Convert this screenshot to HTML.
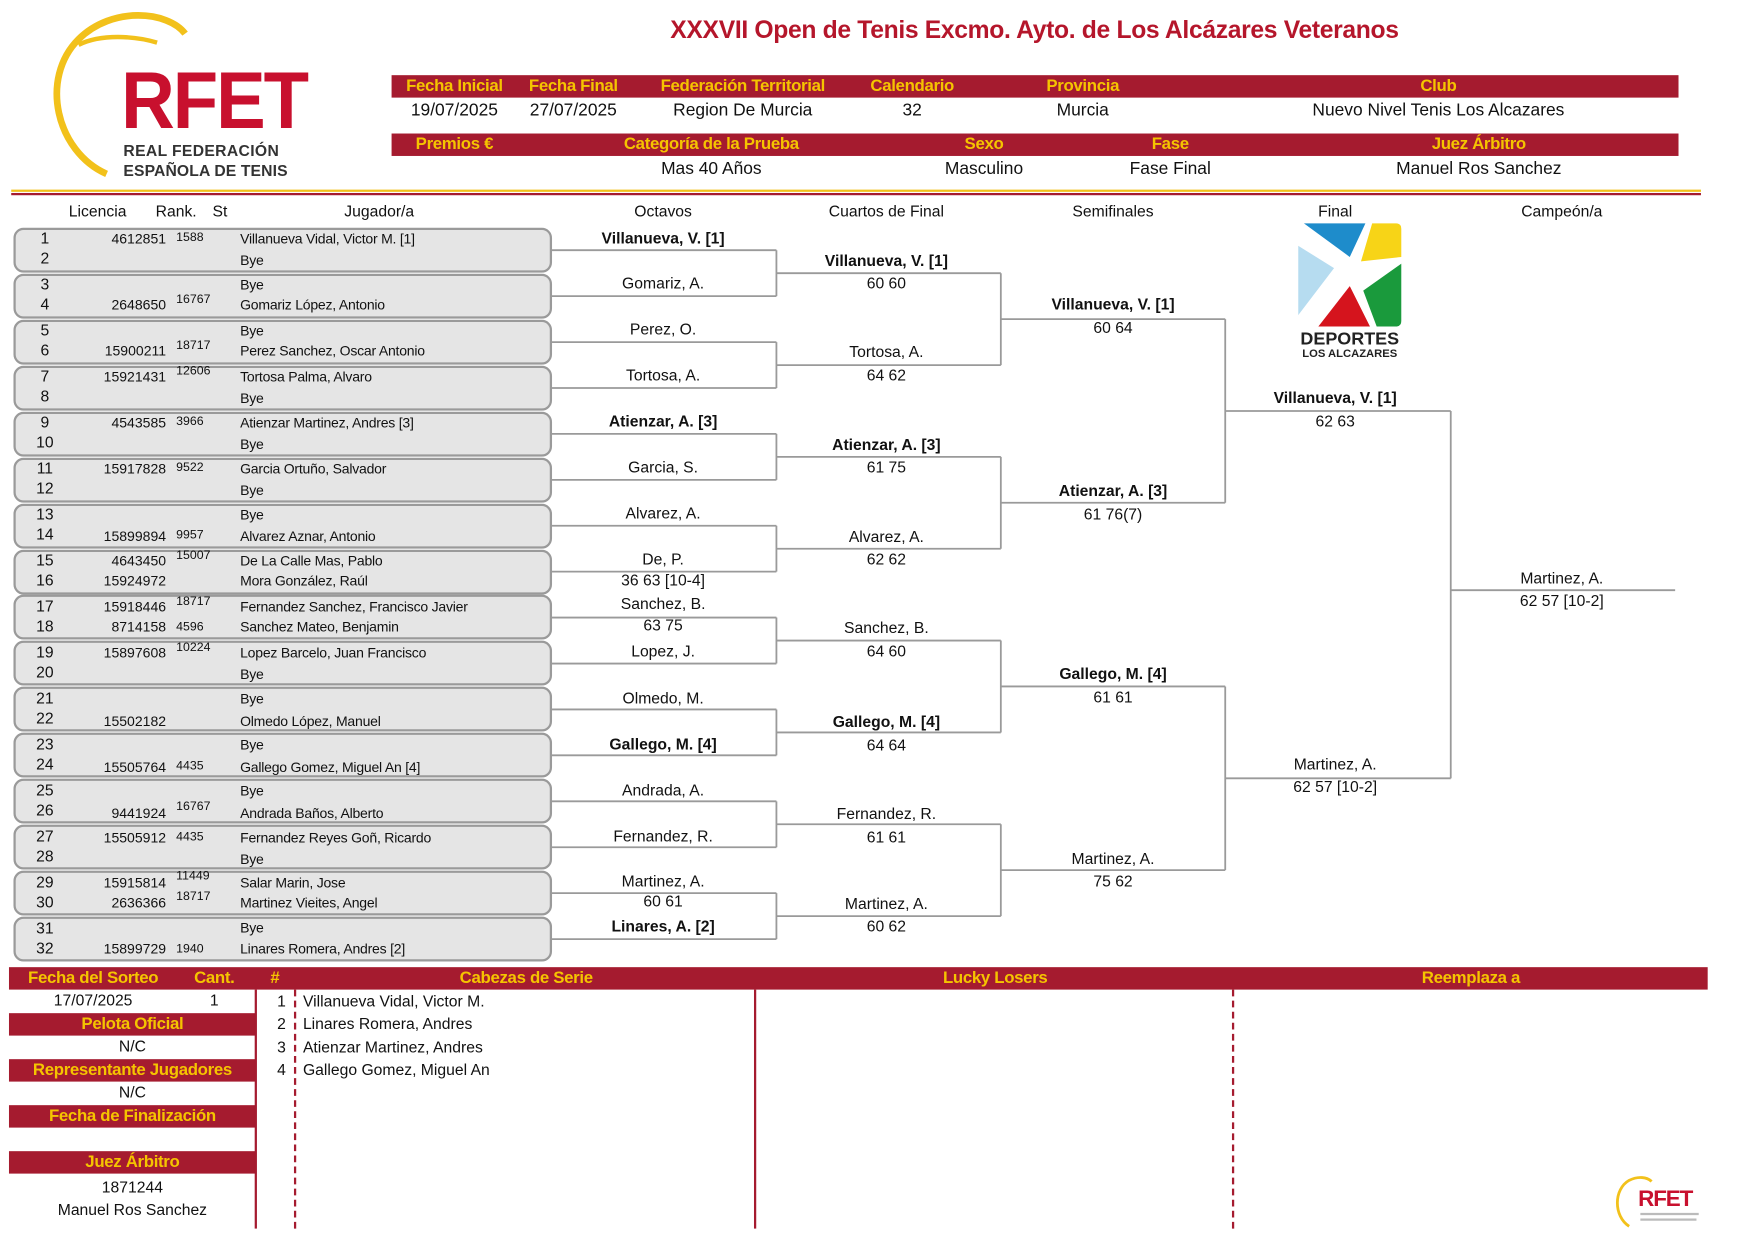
<!DOCTYPE html>
<html><head><meta charset="utf-8"><style>
html,body{margin:0;padding:0;background:#fff;overflow:hidden;}
#w{position:absolute;left:0;top:0;width:1560px;height:1102px;transform:scale(1.122);transform-origin:0 0;font-family:"Liberation Sans",sans-serif;color:#111;}
.a{position:absolute;white-space:nowrap;}
.c{position:absolute;white-space:nowrap;text-align:center;width:240px;}
.bar{position:absolute;background:#a51b2f;}
.y{color:#f5c400;font-weight:bold;font-size:15px;letter-spacing:-0.3px;}
.v{font-size:15.5px;}
.box{position:absolute;left:12px;width:476px;height:36px;border:2px solid #9a9a9a;border-radius:9px;background:#e5e5e5;}
.n{position:absolute;width:30px;text-align:center;left:25px;font-size:14px;}
.l{position:absolute;right:352px;font-size:12.5px;text-align:right;}
.r{position:absolute;left:157px;font-size:11px;}
.nm{position:absolute;left:214px;font-size:12.5px;letter-spacing:-0.2px;}
.b{font-weight:bold;}
.t{font-size:14px;}
</style></head><body><div id="w">

<svg class="a" style="left:40px;top:10px" width="250" height="155" viewBox="0 0 250 155">
<path d="M55 145 C10 125 -5 60 30 25 C60 -5 110 0 125 20" fill="none" stroke="#f2c11b" stroke-width="6"/>
<path d="M30 30 C50 20 80 22 100 28" fill="none" stroke="#f2c11b" stroke-width="4"/>
</svg>
<div class="a" style="left:108px;top:52px;font-size:72px;font-weight:bold;color:#c8102e;letter-spacing:-2px;line-height:76px;transform:scaleX(0.92);transform-origin:0 0">RFET</div>
<div class="a" style="left:110px;top:126px;font-size:14px;font-weight:bold;color:#333;letter-spacing:0.3px">REAL FEDERACIÓN</div>
<div class="a" style="left:110px;top:144px;font-size:14px;font-weight:bold;color:#333;letter-spacing:0.1px">ESPAÑOLA DE TENIS</div>

<div class="c" style="left:572px;width:700px;top:14px;font-size:22px;font-weight:bold;color:#b5162b;letter-spacing:-0.3px">XXXVII Open de Tenis Excmo. Ayto. de Los Alcázares Veteranos</div>

<div class="bar" style="left:349px;top:67px;width:1147px;height:20px"></div>
<div class="bar" style="left:349px;top:119px;width:1147px;height:20px"></div>
<div class="c y" style="left:285px;top:68px">Fecha Inicial</div>
<div class="c y" style="left:391px;top:68px">Fecha Final</div>
<div class="c y" style="left:542px;top:68px">Federación Territorial</div>
<div class="c y" style="left:693px;top:68px">Calendario</div>
<div class="c y" style="left:845px;top:68px">Provincia</div>
<div class="c y" style="left:1162px;top:68px">Club</div>
<div class="c v" style="left:285px;top:90px">19/07/2025</div>
<div class="c v" style="left:391px;top:90px">27/07/2025</div>
<div class="c v" style="left:542px;top:90px">Region De Murcia</div>
<div class="c v" style="left:693px;top:90px">32</div>
<div class="c v" style="left:845px;top:90px">Murcia</div>
<div class="c v" style="left:1162px;top:90px">Nuevo Nivel Tenis Los Alcazares</div>
<div class="c y" style="left:285px;top:120px">Premios €</div>
<div class="c y" style="left:514px;top:120px">Categoría de la Prueba</div>
<div class="c y" style="left:757px;top:120px">Sexo</div>
<div class="c y" style="left:923px;top:120px">Fase</div>
<div class="c y" style="left:1198px;top:120px">Juez Árbitro</div>
<div class="c v" style="left:514px;top:142px">Mas 40 Años</div>
<div class="c v" style="left:757px;top:142px">Masculino</div>
<div class="c v" style="left:923px;top:142px">Fase Final</div>
<div class="c v" style="left:1198px;top:142px">Manuel Ros Sanchez</div>

<div class="a" style="left:10px;top:169px;width:1506px;height:2px;background:#f2c11b"></div>
<div class="a" style="left:10px;top:172px;width:1506px;height:2px;background:#a51b2f"></div>

<div class="c t" style="left:-33px;top:180px">Licencia</div>
<div class="c t" style="left:37px;top:180px">Rank.</div>
<div class="c t" style="left:76px;top:180px">St</div>
<div class="c t" style="left:218px;top:180px">Jugador/a</div>
<div class="c t" style="left:471px;top:180px">Octavos</div>
<div class="c t" style="left:670px;top:180px">Cuartos de Final</div>
<div class="c t" style="left:872px;top:180px">Semifinales</div>
<div class="c t" style="left:1070px;top:180px">Final</div>
<div class="c t" style="left:1272px;top:180px">Campeón/a</div>

<svg class="a" style="left:1157px;top:199px" width="92" height="92" viewBox="0 0 92 92">
<path d="M5 0 H60 L46 30 Z" fill="#1e8ccb"/>
<path d="M66 0 H87 Q92 0 92 5 V30 L56 34 Z" fill="#f7d417"/>
<path d="M92 36 V87 Q92 92 87 92 H70 L58 60 Z" fill="#1a9a3c"/>
<path d="M18 92 L46 56 L64 92 Z" fill="#d5141d"/>
<path d="M0 20 L32 40 L0 82 Z" fill="#b6dcf0"/>
</svg>
<div class="c" style="left:1083px;top:294px;font-size:16px;font-weight:bold;color:#222">DEPORTES</div>
<div class="c" style="left:1083px;top:310px;font-size:10px;font-weight:bold;color:#222">LOS ALCAZARES</div>

<svg class="a" style="left:0;top:0" width="1560" height="1102">
<g stroke="#9a9a9a" stroke-width="1.6" fill="none">
<path d="M490 223H692M490 263.9H692M692 223V263.9M692 243.5H892"/>
<path d="M490 304.9H692M490 345.8H692M692 304.9V345.8M692 325.4H892"/>
<path d="M490 386.7H692M490 427.7H692M692 386.7V427.7M692 407.2H892"/>
<path d="M490 468.6H692M490 509.5H692M692 468.6V509.5M692 489.1H892"/>
<path d="M490 550.4H692M490 591.4H692M692 550.4V591.4M692 570.9H892"/>
<path d="M490 632.3H692M490 673.2H692M692 632.3V673.2M692 652.8H892"/>
<path d="M490 714.2H692M490 755.1H692M692 714.2V755.1M692 734.6H892"/>
<path d="M490 796H692M490 837H692M692 796V837M692 816.5H892"/>
<path d="M892 243.5V325.4M892 284.4H1092M892 407.2V489.1M892 448.1H1092M892 570.9V652.8M892 611.8H1092M892 734.6V816.5M892 775.5H1092"/>
<path d="M1092 284.4V448.1M1092 366.3H1293M1092 611.8V775.5M1092 693.7H1293"/>
<path d="M1293 366.3V693.7M1293 526H1493"/>
</g></svg>

<div class="box" style="top:203px"></div>
<div class="box" style="top:243.9px"></div>
<div class="box" style="top:284.9px"></div>
<div class="box" style="top:325.8px"></div>
<div class="box" style="top:366.7px"></div>
<div class="box" style="top:407.7px"></div>
<div class="box" style="top:448.6px"></div>
<div class="box" style="top:489.5px"></div>
<div class="box" style="top:530.4px"></div>
<div class="box" style="top:571.4px"></div>
<div class="box" style="top:612.3px"></div>
<div class="box" style="top:653.2px"></div>
<div class="box" style="top:694.2px"></div>
<div class="box" style="top:735.1px"></div>
<div class="box" style="top:776px"></div>
<div class="box" style="top:817px"></div>

<div class="a" style="left:0;top:0;width:500px;height:870px">
<div class="n" style="top:204px">1</div><div class="l" style="top:206px">4612851</div><div class="r" style="top:206px">1588</div><div class="nm" style="top:206px">Villanueva Vidal, Victor M. [1]</div>
<div class="n" style="top:222px">2</div><div class="nm" style="top:225px">Bye</div>
<div class="n" style="top:245px">3</div><div class="nm" style="top:247px">Bye</div>
<div class="n" style="top:263px">4</div><div class="l" style="top:265px">2648650</div><div class="r" style="top:261px">16767</div><div class="nm" style="top:265px">Gomariz López, Antonio</div>
<div class="n" style="top:286px">5</div><div class="nm" style="top:288px">Bye</div>
<div class="n" style="top:304px">6</div><div class="l" style="top:306px">15900211</div><div class="r" style="top:302px">18717</div><div class="nm" style="top:306px">Perez Sanchez, Oscar Antonio</div>
<div class="n" style="top:327px">7</div><div class="l" style="top:329px">15921431</div><div class="r" style="top:325px">12606</div><div class="nm" style="top:329px">Tortosa Palma, Alvaro</div>
<div class="n" style="top:345px">8</div><div class="nm" style="top:348px">Bye</div>
<div class="n" style="top:368px">9</div><div class="l" style="top:370px">4543585</div><div class="r" style="top:370px">3966</div><div class="nm" style="top:370px">Atienzar Martinez, Andres [3]</div>
<div class="n" style="top:386px">10</div><div class="nm" style="top:389px">Bye</div>
<div class="n" style="top:409px">11</div><div class="l" style="top:411px">15917828</div><div class="r" style="top:411px">9522</div><div class="nm" style="top:411px">Garcia Ortuño, Salvador</div>
<div class="n" style="top:427px">12</div><div class="nm" style="top:430px">Bye</div>
<div class="n" style="top:450px">13</div><div class="nm" style="top:452px">Bye</div>
<div class="n" style="top:468px">14</div><div class="l" style="top:471px">15899894</div><div class="r" style="top:471px">9957</div><div class="nm" style="top:471px">Alvarez Aznar, Antonio</div>
<div class="n" style="top:491px">15</div><div class="l" style="top:493px">4643450</div><div class="r" style="top:489px">15007</div><div class="nm" style="top:493px">De La Calle Mas, Pablo</div>
<div class="n" style="top:509px">16</div><div class="l" style="top:511px">15924972</div><div class="nm" style="top:511px">Mora González, Raúl</div>
<div class="n" style="top:532px">17</div><div class="l" style="top:534px">15918446</div><div class="r" style="top:530px">18717</div><div class="nm" style="top:534px">Fernandez Sanchez, Francisco Javier</div>
<div class="n" style="top:550px">18</div><div class="l" style="top:552px">8714158</div><div class="r" style="top:553px">4596</div><div class="nm" style="top:552px">Sanchez Mateo, Benjamin</div>
<div class="n" style="top:573px">19</div><div class="l" style="top:575px">15897608</div><div class="r" style="top:571px">10224</div><div class="nm" style="top:575px">Lopez Barcelo, Juan Francisco</div>
<div class="n" style="top:591px">20</div><div class="nm" style="top:594px">Bye</div>
<div class="n" style="top:614px">21</div><div class="nm" style="top:616px">Bye</div>
<div class="n" style="top:632px">22</div><div class="l" style="top:636px">15502182</div><div class="nm" style="top:636px">Olmedo López, Manuel</div>
<div class="n" style="top:655px">23</div><div class="nm" style="top:657px">Bye</div>
<div class="n" style="top:673px">24</div><div class="l" style="top:677px">15505764</div><div class="r" style="top:677px">4435</div><div class="nm" style="top:677px">Gallego Gomez, Miguel An [4]</div>
<div class="n" style="top:696px">25</div><div class="nm" style="top:698px">Bye</div>
<div class="n" style="top:714px">26</div><div class="l" style="top:718px">9441924</div><div class="r" style="top:713px">16767</div><div class="nm" style="top:718px">Andrada Baños, Alberto</div>
<div class="n" style="top:737px">27</div><div class="l" style="top:740px">15505912</div><div class="r" style="top:740px">4435</div><div class="nm" style="top:740px">Fernandez Reyes Goñ, Ricardo</div>
<div class="n" style="top:755px">28</div><div class="nm" style="top:759px">Bye</div>
<div class="n" style="top:778px">29</div><div class="l" style="top:780px">15915814</div><div class="r" style="top:775px">11449</div><div class="nm" style="top:780px">Salar Marin, Jose</div>
<div class="n" style="top:796px">30</div><div class="l" style="top:798px">2636366</div><div class="r" style="top:793px">18717</div><div class="nm" style="top:798px">Martinez Vieites, Angel</div>
<div class="n" style="top:819px">31</div><div class="nm" style="top:820px">Bye</div>
<div class="n" style="top:837px">32</div><div class="l" style="top:839px">15899729</div><div class="r" style="top:840px">1940</div><div class="nm" style="top:839px">Linares Romera, Andres [2]</div>
</div>

<div class="c t b" style="left:471px;top:204px">Villanueva, V. [1]</div>
<div class="c t" style="left:471px;top:244px">Gomariz, A.</div>
<div class="c t" style="left:471px;top:285px">Perez, O.</div>
<div class="c t" style="left:471px;top:326px">Tortosa, A.</div>
<div class="c t b" style="left:471px;top:367px">Atienzar, A. [3]</div>
<div class="c t" style="left:471px;top:408px">Garcia, S.</div>
<div class="c t" style="left:471px;top:449px">Alvarez, A.</div>
<div class="c t" style="left:471px;top:490px">De, P.</div>
<div class="c t" style="left:471px;top:509px">36 63 [10-4]</div>
<div class="c t" style="left:471px;top:530px">Sanchez, B.</div>
<div class="c t" style="left:471px;top:549px">63 75</div>
<div class="c t" style="left:471px;top:572px">Lopez, J.</div>
<div class="c t" style="left:471px;top:614px">Olmedo, M.</div>
<div class="c t b" style="left:471px;top:655px">Gallego, M. [4]</div>
<div class="c t" style="left:471px;top:696px">Andrada, A.</div>
<div class="c t" style="left:471px;top:737px">Fernandez, R.</div>
<div class="c t" style="left:471px;top:777px">Martinez, A.</div>
<div class="c t" style="left:471px;top:795px">60 61</div>
<div class="c t b" style="left:471px;top:817px">Linares, A. [2]</div>

<div class="c t b" style="left:670px;top:224px">Villanueva, V. [1]</div><div class="c t" style="left:670px;top:244px">60 60</div>
<div class="c t" style="left:670px;top:305px">Tortosa, A.</div><div class="c t" style="left:670px;top:326px">64 62</div>
<div class="c t b" style="left:670px;top:388px">Atienzar, A. [3]</div><div class="c t" style="left:670px;top:408px">61 75</div>
<div class="c t" style="left:670px;top:470px">Alvarez, A.</div><div class="c t" style="left:670px;top:490px">62 62</div>
<div class="c t" style="left:670px;top:551px">Sanchez, B.</div><div class="c t" style="left:670px;top:572px">64 60</div>
<div class="c t b" style="left:670px;top:635px">Gallego, M. [4]</div><div class="c t" style="left:670px;top:656px">64 64</div>
<div class="c t" style="left:670px;top:717px">Fernandez, R.</div><div class="c t" style="left:670px;top:738px">61 61</div>
<div class="c t" style="left:670px;top:797px">Martinez, A.</div><div class="c t" style="left:670px;top:817px">60 62</div>

<div class="c t b" style="left:872px;top:263px">Villanueva, V. [1]</div><div class="c t" style="left:872px;top:284px">60 64</div>
<div class="c t b" style="left:872px;top:429px">Atienzar, A. [3]</div><div class="c t" style="left:872px;top:450px">61 76(7)</div>
<div class="c t b" style="left:872px;top:592px">Gallego, M. [4]</div><div class="c t" style="left:872px;top:613px">61 61</div>
<div class="c t" style="left:872px;top:757px">Martinez, A.</div><div class="c t" style="left:872px;top:777px">75 62</div>

<div class="c t b" style="left:1070px;top:346px">Villanueva, V. [1]</div><div class="c t" style="left:1070px;top:367px">62 63</div>
<div class="c t" style="left:1070px;top:673px">Martinez, A.</div><div class="c t" style="left:1070px;top:693px">62 57 [10-2]</div>
<div class="c t" style="left:1272px;top:507px">Martinez, A.</div><div class="c t" style="left:1272px;top:527px">62 57 [10-2]</div>

<div class="bar" style="left:8px;top:862px;width:1514px;height:20px"></div>
<div class="c y" style="left:-37px;top:863px">Fecha del Sorteo</div>
<div class="c y" style="left:71px;top:863px">Cant.</div>
<div class="c y" style="left:125px;top:863px">#</div>
<div class="c y" style="left:349px;top:863px">Cabezas de Serie</div>
<div class="c y" style="left:767px;top:863px">Lucky Losers</div>
<div class="c y" style="left:1191px;top:863px">Reemplaza a</div>
<div class="c t" style="left:-37px;top:883px">17/07/2025</div>
<div class="c t" style="left:71px;top:883px">1</div>
<div class="bar" style="left:8px;top:903px;width:220px;height:20px"></div>
<div class="c y" style="left:-2px;top:904px">Pelota Oficial</div>
<div class="c t" style="left:-2px;top:924px">N/C</div>
<div class="bar" style="left:8px;top:944px;width:220px;height:20px"></div>
<div class="c y" style="left:-2px;top:945px">Representante Jugadores</div>
<div class="c t" style="left:-2px;top:965px">N/C</div>
<div class="bar" style="left:8px;top:985px;width:220px;height:20px"></div>
<div class="c y" style="left:-2px;top:986px">Fecha de Finalización</div>
<div class="bar" style="left:8px;top:1026px;width:220px;height:20px"></div>
<div class="c y" style="left:-2px;top:1027px">Juez Árbitro</div>
<div class="c t" style="left:-2px;top:1050px">1871244</div>
<div class="c t" style="left:-2px;top:1070px">Manuel Ros Sanchez</div>
<div class="a" style="left:227px;top:882px;width:2px;height:213px;background:#a51b2f"></div>
<div class="a" style="left:262px;top:882px;width:0;height:213px;border-left:2px dashed #a51b2f"></div>
<div class="a" style="left:672px;top:882px;width:2px;height:213px;background:#a51b2f"></div>
<div class="a" style="left:1098px;top:882px;width:0;height:213px;border-left:2px dashed #a51b2f"></div>
<div class="a t" style="left:247px;top:884px">1</div><div class="a t" style="left:270px;top:884px">Villanueva Vidal, Victor M.</div>
<div class="a t" style="left:247px;top:904px">2</div><div class="a t" style="left:270px;top:904px">Linares Romera, Andres</div>
<div class="a t" style="left:247px;top:925px">3</div><div class="a t" style="left:270px;top:925px">Atienzar Martinez, Andres</div>
<div class="a t" style="left:247px;top:945px">4</div><div class="a t" style="left:270px;top:945px">Gallego Gomez, Miguel An</div>

<svg class="a" style="left:1438px;top:1046px" width="40" height="50"><path d="M14 47 C0 38 0 14 14 6 C22 2 30 3 34 7" fill="none" stroke="#f2c11b" stroke-width="2.5"/></svg>
<div class="a" style="left:1460px;top:1058px;font-size:20px;font-weight:bold;color:#c8102e;letter-spacing:-1px">RFET</div>
<div class="a" style="left:1462px;top:1081px;width:52px;height:2px;background:#bbb"></div>
<div class="a" style="left:1462px;top:1086px;width:50px;height:2px;background:#bbb"></div>
</div></body></html>
